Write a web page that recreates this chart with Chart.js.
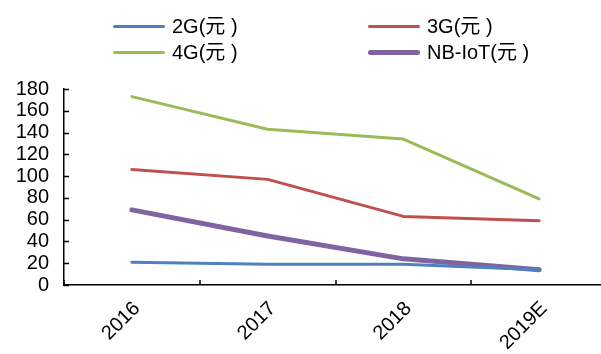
<!DOCTYPE html>
<html>
<head>
<meta charset="utf-8">
<script src="https://cdn.jsdelivr.net/npm/chart.js@4/dist/chart.umd.min.js"></script>
<style>
  html, body { margin: 0; padding: 0; background: #fff; overflow: hidden; width: 601px; height: 354px; }
  #wrap { position: absolute; left: 0; top: 0; width: 612px; height: 354px; }
  .legend { position: absolute; font-family: "Liberation Sans", Arial, "Noto Sans CJK SC", sans-serif; font-size: 20px; color: #000; }
  .item { position: absolute; height: 26px; white-space: nowrap; }
  .item .swatch { position: absolute; left: 0; width: 52px; border-radius: 3px; }
  .item .label { position: absolute; left: 59px; top: 0; line-height: 26px; }
</style>
</head>
<body>
<div id="wrap"><canvas id="c" width="612" height="354"></canvas></div>
<div class="legend" id="legend"></div>
<script>
// Categories and series (unit price in yuan)
const categories = ['2016', '2017', '2018', '2019E'];
const price2G    = [21, 19, 19, 14];
const price3G    = [106, 97, 63, 59];
const price4G    = [173, 143, 134, 79];
const priceNBIoT = [69, 45, 24, 14];
const yTicks     = [0, 20, 40, 60, 80, 100, 120, 140, 160, 180];

const series = [
  { label: '2G(元 )',     data: price2G,    color: '#4F81BD', width: 3 },
  { label: '3G(元 )',     data: price3G,    color: '#C0504D', width: 3 },
  { label: '4G(元 )',     data: price4G,    color: '#9BBB59', width: 3 },
  { label: 'NB-IoT(元 )', data: priceNBIoT, color: '#8064A2', width: 5 }
];

// Legend: two columns, two rows
const legendPos = [[113, 13], [368, 13], [113, 39], [368, 39]];
const legendEl = document.getElementById('legend');
series.forEach((s, i) => {
  const it = document.createElement('div');
  it.className = 'item';
  it.style.left = legendPos[i][0] + 'px';
  it.style.top = legendPos[i][1] + 'px';
  const sw = document.createElement('div');
  sw.className = 'swatch';
  sw.style.background = s.color;
  sw.style.height = s.width + 'px';
  sw.style.top = (13 - s.width / 2) + 'px';
  const lb = document.createElement('div');
  lb.className = 'label';
  lb.textContent = s.label;
  it.appendChild(sw);
  it.appendChild(lb);
  legendEl.appendChild(it);
});

// Inward tick marks on both axes
const innerTicks = {
  id: 'innerTicks',
  afterDraw(chart) {
    const ctx = chart.ctx;
    const x = chart.scales.x, y = chart.scales.y;
    const len = 5;
    ctx.save();
    ctx.strokeStyle = '#000';
    ctx.lineWidth = 1.5;
    ctx.beginPath();
    yTicks.forEach(v => {
      const py = Math.round(y.getPixelForValue(v)) + 0.5;
      ctx.moveTo(x.left, py);
      ctx.lineTo(x.left + len, py);
    });
    for (let i = 0; i <= categories.length; i++) {
      const px = Math.round(x.getPixelForValue(i - 0.5));
      ctx.moveTo(px, y.bottom);
      ctx.lineTo(px, y.bottom - len);
    }
    ctx.stroke();
    ctx.restore();
  }
};

const tickFont = { family: '"Liberation Sans", Arial, sans-serif', size: 20 };

new Chart(document.getElementById('c'), {
  type: 'line',
  data: {
    labels: categories,
    datasets: series.map(s => ({
      label: s.label,
      data: s.data,
      borderColor: s.color,
      backgroundColor: s.color,
      borderWidth: s.width,
      pointRadius: 0,
      tension: 0,
      borderCapStyle: 'round',
      borderJoinStyle: 'round'
    }))
  },
  options: {
    responsive: false,
    animation: false,
    layout: { padding: { top: 89, right: 5, left: 0, bottom: 0 } },
    plugins: { legend: { display: false }, tooltip: { enabled: false } },
    scales: {
      x: {
        offset: true,
        grid: { display: false, drawTicks: false },
        border: { display: true, color: '#000', width: 1.5 },
        ticks: {
          color: '#000',
          font: tickFont,
          minRotation: 45,
          maxRotation: 45,
          autoSkip: false,
          padding: 12,
          labelOffset: 5
        },
        afterFit(scale) { scale.height = 69; }
      },
      y: {
        min: 0,
        max: 180,
        afterBuildTicks(scale) { scale.ticks = yTicks.map(v => ({ value: v })); },
        grid: { display: false, drawTicks: false },
        border: { display: true, color: '#000', width: 1.5 },
        ticks: {
          color: '#000',
          font: tickFont,
          autoSkip: false,
          padding: 15
        },
        afterFit(scale) { scale.width = 64; }
      }
    }
  },
  plugins: [innerTicks]
});
</script>
</body>
</html>
